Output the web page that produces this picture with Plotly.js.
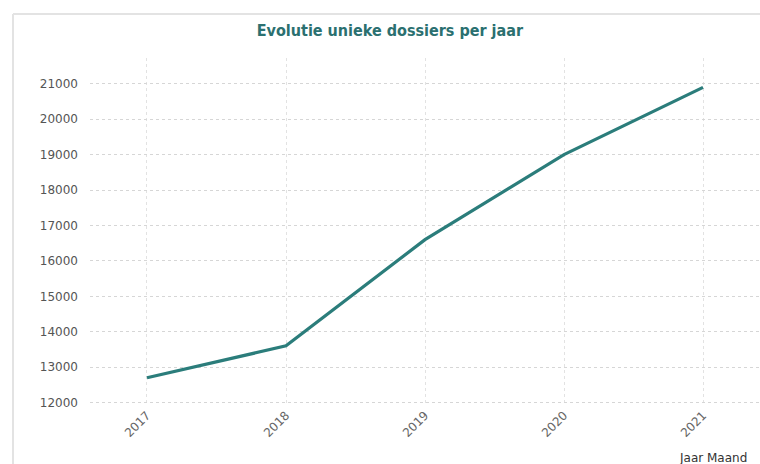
<!DOCTYPE html>
<html>
<head>
<meta charset="utf-8">
<script src="https://cdn.plot.ly/plotly-3.0.1.min.js"></script>
<style>html,body{margin:0;padding:0;background:#fff;}#chart{width:760px;height:464px;}</style>
</head>
<body>
<div id="chart"></div>
<script>
const years = ["2017", "2018", "2019", "2020", "2021"];
const dossiers = [12700, 13600, 16600, 19000, 20900];
const yTicks = [12000, 13000, 14000, 15000, 16000, 17000, 18000, 19000, 20000, 21000];

const trace = {
  x: years,
  y: dossiers,
  type: "scatter",
  mode: "lines",
  line: {color: "#2b7d7b", width: 3.2},
  hoverinfo: "x+y"
};

const layout = {
  width: 760,
  height: 464,
  paper_bgcolor: "#ffffff",
  plot_bgcolor: "#ffffff",
  margin: {l: 90, r: 0, t: 58, b: 59},
  showlegend: false,
  title: {
    text: "Evolutie unieke dossiers per jaar",
    font: {family: "DejaVu Sans Condensed, DejaVu Sans, sans-serif", size: 16, color: "#2b7070", weight: "bold"},
    x: 0.513, xanchor: "center",
    y: 0.935, yanchor: "middle", yref: "container"
  },
  xaxis: {
    type: "category",
    range: [-0.41, 4.41],
    tickangle: -45,
    tickfont: {family: "DejaVu Sans, sans-serif", size: 12, color: "#666"},
    showgrid: true,
    gridcolor: "#e2e2e2",
    griddash: "dot",
    gridwidth: 1,
    zeroline: false,
    showline: false,
    ticks: "",
    ticklen: 0
  },
  yaxis: {
    range: [11930, 21730],
    tickvals: yTicks,
    ticktext: yTicks.map(String),
    tickfont: {family: "DejaVu Sans, sans-serif", size: 12, color: "#555"},
    showgrid: true,
    gridcolor: "#d6d6d6",
    griddash: "dot",
    gridwidth: 1,
    zeroline: false,
    showline: false,
    ticks: "",
    ticklabelstandoff: 11
  },
  annotations: [{
    text: "Jaar Maand",
    xref: "paper", yref: "paper",
    x: 0.93, y: -0.153,
    xanchor: "center", yanchor: "middle",
    showarrow: false,
    font: {family: "DejaVu Sans, sans-serif", size: 12, color: "#333"}
  }],
  shapes: [
    {type: "line", xref: "paper", yref: "paper", x0: (13 - 90) / 670, x1: (13 - 90) / 670, y0: (464 - 14 - 59) / 347, y1: -59 / 347, line: {color: "#e3e3e3", width: 2}},
    {type: "line", xref: "paper", yref: "paper", x0: (13 - 90) / 670, x1: 1, y0: (464 - 14 - 59) / 347, y1: (464 - 14 - 59) / 347, line: {color: "#e3e3e3", width: 2}}
  ]
};

Plotly.newPlot("chart", [trace], layout, {displayModeBar: false, staticPlot: true});
</script>
</body>
</html>
